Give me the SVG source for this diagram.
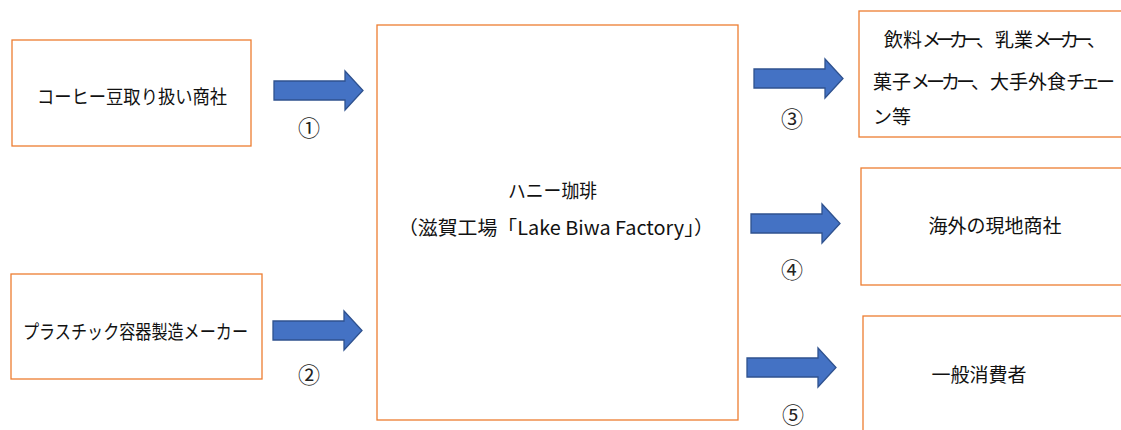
<svg xmlns="http://www.w3.org/2000/svg" xmlns:xlink="http://www.w3.org/1999/xlink" width="1121" height="430" viewBox="0 0 1121 430">
<style>
.box{fill:#ffffff;stroke:#ED7D31;stroke-width:1.3}
.t{font-family:"Noto Sans CJK JP","Noto Sans",sans-serif;font-size:19px;fill:#111111;dominant-baseline:central}
.c{text-anchor:middle}
.k{letter-spacing:-4px}
.k5{letter-spacing:-5.5px}
.arr{fill:#4472C4;stroke:#2F528F;stroke-width:1.3;stroke-linejoin:miter}
.n{font-family:"Noto Sans CJK JP","Noto Sans",sans-serif;font-size:22px;fill:#222222;text-anchor:middle;dominant-baseline:central}
</style>
<defs>
<path id="arrow" d="M0,10 H71 V0 L89,19.5 L71,39 V29 H0 Z"/>
</defs>
<rect width="1121" height="430" fill="#ffffff"/>
<g id="node-coffee-trader">
<rect class="box" x="12" y="40" width="239" height="106"/>
<text class="t" x="37" y="95" textLength="190" lengthAdjust="spacingAndGlyphs">コーヒー豆取り扱い商社</text>
</g>
<g id="node-plastic-maker">
<rect class="box" x="11" y="274" width="251" height="105"/>
<text class="t" x="23" y="330" textLength="225" lengthAdjust="spacingAndGlyphs">プラスチック容器製造メーカー</text>
</g>
<g id="node-honey-coffee">
<rect class="box" x="377" y="25" width="361" height="395"/>
<text class="t" x="508" y="189" textLength="89" lengthAdjust="spacingAndGlyphs">ハニー珈琲</text>
<text class="t" x="398" y="226" textLength="316" lengthAdjust="spacingAndGlyphs">（滋賀工場「Lake  Biwa  Factory」）</text>
</g>
<g id="node-customers">
<rect class="box" x="859" y="11" width="270" height="126"/>
<text class="t" x="884" y="38">飲料<tspan class="k5">メーカー</tspan>、乳業<tspan class="k5">メーカー</tspan>、</text>
<text class="t" x="873" y="80">菓子<tspan class="k">メーカー</tspan>、大手外食<tspan class="k">チェー</tspan></text>
<text class="t" x="873" y="115">ン等</text>
</g>
<g id="node-overseas">
<rect class="box" x="861" y="168" width="270" height="117"/>
<text class="t c" x="995" y="224">海外の現地商社</text>
</g>
<g id="node-consumers">
<rect class="box" x="863" y="316" width="270" height="130"/>
<text class="t c" x="979" y="373">一般消費者</text>
</g>
<g id="connectors">
<use href="#arrow" xlink:href="#arrow" class="arr" x="274" y="71"/>
<use href="#arrow" xlink:href="#arrow" class="arr" x="273" y="311"/>
<use href="#arrow" xlink:href="#arrow" class="arr" x="754" y="59"/>
<use href="#arrow" xlink:href="#arrow" class="arr" x="751" y="204"/>
<use href="#arrow" xlink:href="#arrow" class="arr" x="747" y="348"/>
<text class="n" x="309" y="126">①</text>
<text class="n" x="309" y="373">②</text>
<text class="n" x="792" y="117">③</text>
<text class="n" x="792" y="268">④</text>
<text class="n" x="793" y="413">⑤</text>
</g>
</svg>
